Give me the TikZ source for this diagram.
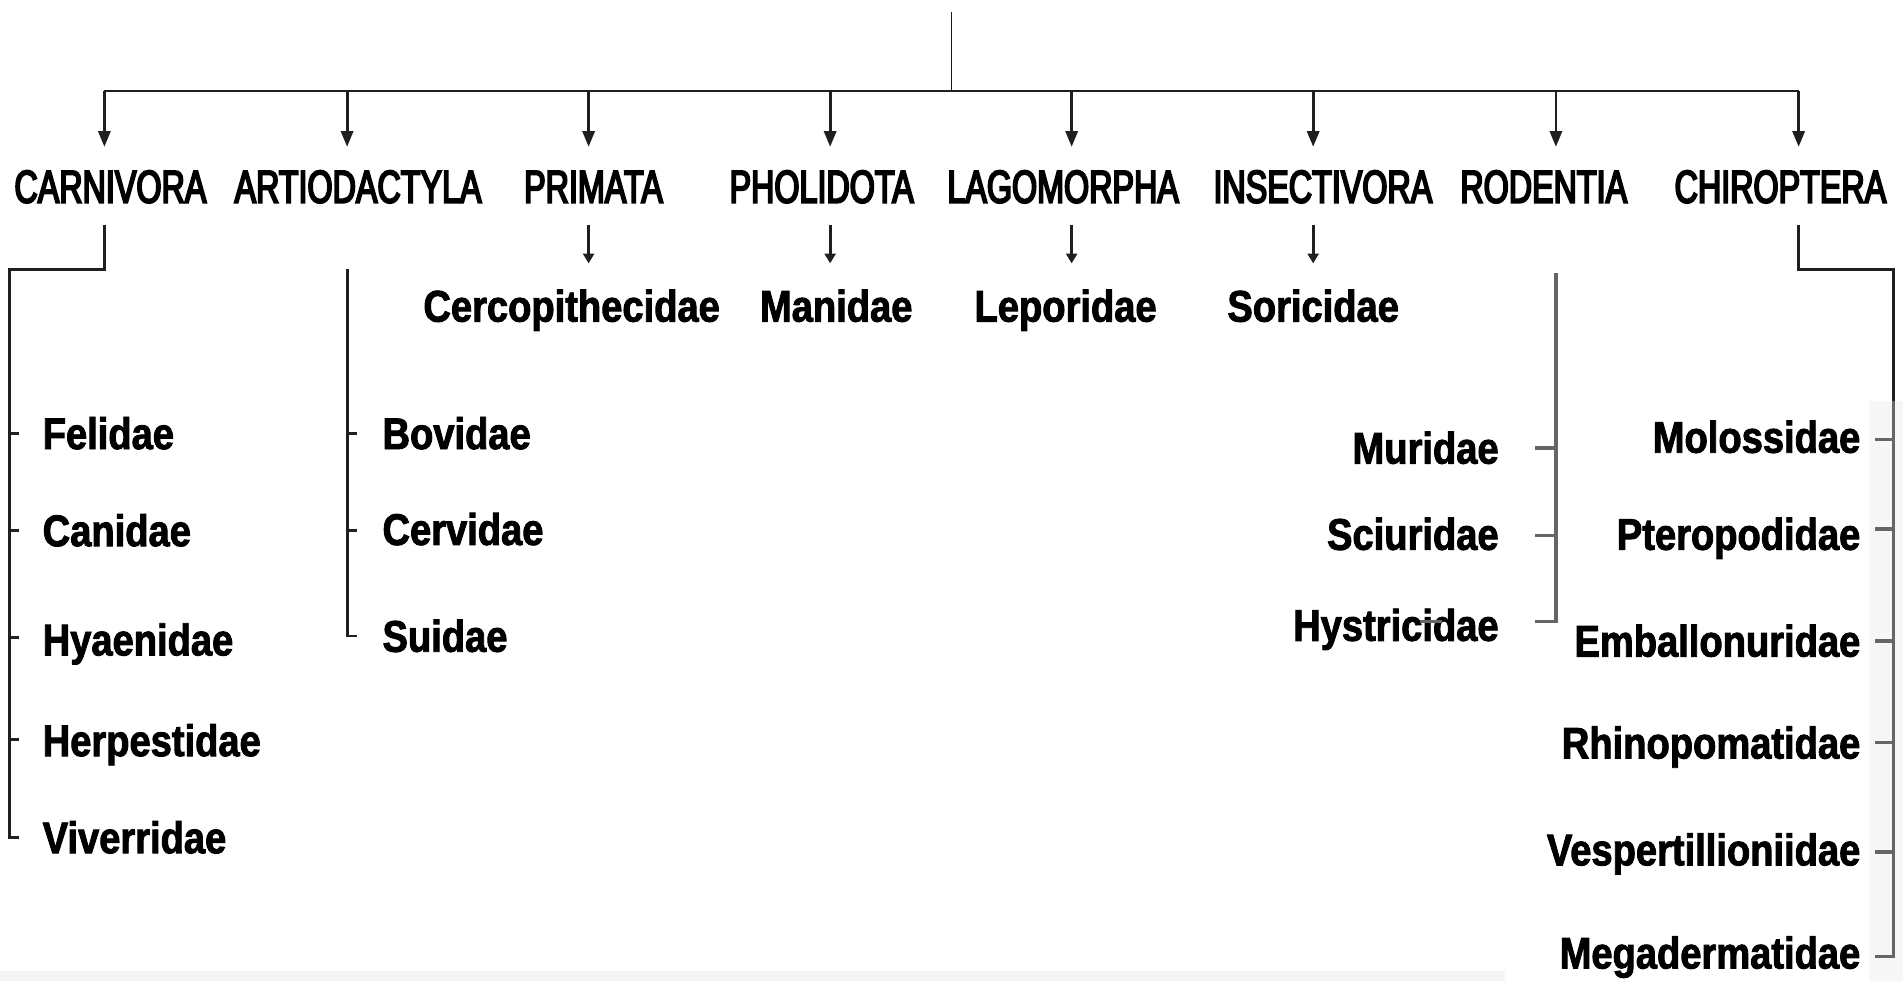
\documentclass[tikz,border=0pt]{standalone}
\usepackage{fontspec}
\setmainfont{Liberation Sans}
\newfontfamily\ordfont[FakeStretch=0.70,FakeBold=4]{Liberation Sans}
\newfontfamily\famfont[FakeStretch=0.86,FakeBold=2]{Liberation Sans}
\usetikzlibrary{arrows.meta}
\begin{document}
\begin{tikzpicture}[x=1pt,y=-1pt,
  ln/.style={line width=2.3pt,color=black!88},
  gl/.style={line width=2.8pt,color=black!60},
  arr/.style={ln,-{Triangle[length=13pt,width=10pt]}},
  ord/.style={inner sep=0pt,font=\ordfont\fontsize{38}{40}\selectfont},
  fam/.style={inner sep=0pt,font=\famfont\bfseries\fontsize{36.5}{40}\selectfont}]
\useasboundingbox (0,0) rectangle (1568,808);
\fill[black!4] (0,800) rectangle (1240,808);
\fill[black!3] (1540,330) rectangle (1568,808);
% orders
\node[ord,anchor=base] (carn) at (91,167) {CARNIVORA};
\node[ord,anchor=base] (art) at (295,167) {ARTIODACTYLA};
\node[ord,anchor=base] (prim) at (489,167) {PRIMATA};
\node[ord,anchor=base] (phol) at (677,167) {PHOLIDOTA};
\node[ord,anchor=base] (lago) at (876,167) {LAGOMORPHA};
\node[ord,anchor=base] (inse) at (1090,167) {INSECTIVORA};
\node[ord,anchor=base] (rode) at (1272,167) {RODENTIA};
\node[ord,anchor=base] (chir) at (1467,167) {CHIROPTERA};
% root and bar
\coordinate (top) at (784,10);
\coordinate (jn) at (784,75);
\draw[line width=1.6pt,black!90] (top) -- (jn);
\coordinate (barL) at (86,75);
\coordinate (barR) at (1482,75);
\draw[ln] (barL) -- (barR);
\foreach \x/\n in {86/1,286/2,485/3,684/4,883/5,1082/6,1282/7,1482/8}{
  \coordinate (a\n) at (\x,75);
  \coordinate (t\n) at (\x,121);
  \draw[arr] (a\n) -- (t\n);
}
% second level single families
\node[fam,anchor=base] (cerc) at (471,265) {Cercopithecidae};
\node[fam,anchor=base] (mani) at (689,265) {Manidae};
\node[fam,anchor=base] (lepo) at (878,265) {Leporidae};
\node[fam,anchor=base] (sori) at (1082,265) {Soricidae};
\foreach \x/\n in {485/3,684/4,883/5,1082/6}{
  \coordinate (s\n) at (\x,185);
  \coordinate (e\n) at (\x,217);
  \draw[ln,-{Triangle[length=8pt,width=9pt]}] (s\n) -- (e\n);
}
% Carnivora
\node[fam,anchor=base west] (feli) at (35,370) {Felidae};
\node[fam,anchor=base west] (cani) at (35,450) {Canidae};
\node[fam,anchor=base west] (hyae) at (35,540) {Hyaenidae};
\node[fam,anchor=base west] (herp) at (35,623) {Herpestidae};
\node[fam,anchor=base west] (vive) at (35,703) {Viverridae};
\coordinate (cs) at (86,185);
\coordinate (cc) at (86,222);
\coordinate (cl) at (8,222);
\coordinate (cb) at (8,690);
\draw[ln] (cs) -- (cc) -- (cl) -- (cb) -- ++(8,0);
\foreach \y in {357,437,525,609}{\draw[ln] (8,\y) -- (16,\y);}
% Artiodactyla
\node[fam,anchor=base west] (bovi) at (315,370) {Bovidae};
\node[fam,anchor=base west] (cerv) at (315,449) {Cervidae};
\node[fam,anchor=base west] (suid) at (315,537) {Suidae};
\coordinate (as) at (286,222);
\coordinate (ab) at (286,524);
\draw[ln] (as) -- (ab) -- ++(8,0);
\foreach \y in {357,437}{\draw[ln] (286,\y) -- (294,\y);}
% Rodentia
\node[fam,anchor=base east] (muri) at (1235,382) {Muridae};
\node[fam,anchor=base east] (sciu) at (1235,453) {Sciuridae};
\node[fam,anchor=base east] (hyst) at (1235,528) {Hystricidae};
\coordinate (rs) at (1282,225);
\coordinate (rb) at (1282,512);
\draw[gl] (rs) -- (rb) -- ++(-17,0);
\foreach \y in {369,441}{\draw[gl] (1265,\y) -- (1282,\y);}
\draw[gl] (1170,512) -- (1188,512);
% Chiroptera
\node[fam,anchor=base east] (molo) at (1533,373) {Molossidae};
\node[fam,anchor=base east] (pter) at (1533,453) {Pteropodidae};
\node[fam,anchor=base east] (emba) at (1533,541) {Emballonuridae};
\node[fam,anchor=base east] (rhin) at (1533,625) {Rhinopomatidae};
\node[fam,anchor=base east] (vesp) at (1533,713) {Vespertillioniidae};
\node[fam,anchor=base east] (mega) at (1533,798) {Megadermatidae};
\coordinate (hs) at (1482,185);
\coordinate (hc) at (1482,222);
\coordinate (hr) at (1560,222);
\coordinate (hb) at (1560,788);
\draw[ln] (hs) -- (hc) -- (hr) -- (1560,330);
\draw[gl] (1560,330) -- (hb) -- ++(-15,0);
\foreach \y in {362,436,528,612,702}{\draw[gl] (1545,\y) -- (1560,\y);}
\end{tikzpicture}
\end{document}
